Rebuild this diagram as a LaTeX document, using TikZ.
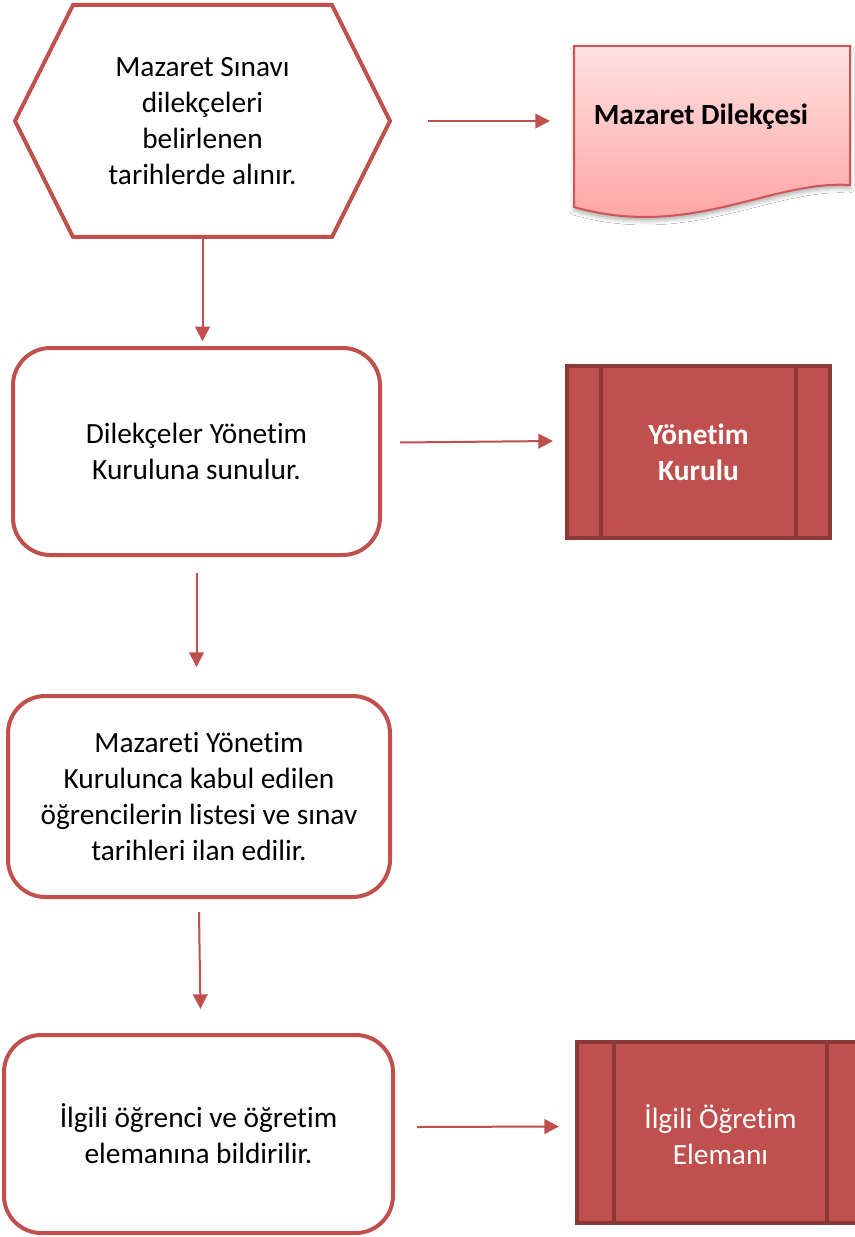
\documentclass[tikz,border=0pt]{standalone}
\usepackage{fontspec}
\setmainfont{Carlito}[Ligatures=NoCommon]
\usetikzlibrary{arrows.meta,shadows.blur}

\definecolor{accent}{HTML}{C0504D}
\definecolor{accentdark}{HTML}{8C3836}
\definecolor{doctop}{HTML}{FFE2E2}
\definecolor{docbottom}{HTML}{FF9E9E}
\definecolor{docline}{HTML}{D05555}

\tikzset{
  txt/.style={font=\fontsize{22pt}{27pt}\selectfont, align=center, outer sep=0pt, inner sep=0pt},
  boldtxt/.style={txt, font=\fontsize{22pt}{27pt}\selectfont\bfseries},
  stepbox/.style={txt, draw=accent, line width=3pt, rounded corners=28pt, fill=white},
  shapeonly/.style={txt, draw=none},
  procbox/.style={txt, draw=accentdark, line width=3.5pt, fill=accent, text=white},
  procline/.style={accentdark, line width=3.5pt},
  arr/.style={draw=accent, line width=1.5pt, -{Triangle[length=11pt,width=11pt]}},
}

\begin{document}
\begin{tikzpicture}[x=0.75pt,y=-0.75pt]
\fill[white] (0,0) rectangle (855,1237);
\useasboundingbox (0,0) rectangle (855,1237);

% start: hexagon with the first step
\node[shapeonly, minimum width=281.25pt, minimum height=174pt] (hex) at (202.5,121)
  {Mazaret Sınavı\\dilekçeleri\\belirlenen\\tarihlerde alınır.};
\draw[accent, line width=3pt, line join=miter]
  (hex.west) -- ([shift={(58,0)}]hex.north west) -- ([shift={(-58,0)}]hex.north east)
  -- (hex.east) -- ([shift={(-58,0)}]hex.south east) -- ([shift={(58,0)}]hex.south west) -- cycle;

% document shape
\node[shapeonly, minimum width=207pt, minimum height=120.75pt] (doc) at (712,126.5) {};
\path[blur shadow={shadow xshift=0pt, shadow yshift=-3pt, shadow blur radius=3pt, shadow opacity=30},
      top color=doctop, bottom color=docbottom, draw=docline, line width=1.5pt]
  (574,46) -- (850,46) -- (850,185) .. controls (770,180) and (690,240) .. (574,207) -- cycle;
\node[boldtxt] (doctext) at (701,117) {Mazaret Dilekçesi};

% process steps
\node[stepbox, minimum width=275.25pt, minimum height=155.25pt] (r1) at (196.5,451.5)
  {Dilekçeler Yönetim\\Kuruluna sunulur.};
\node[stepbox, minimum width=286.5pt, minimum height=150.75pt] (r2) at (199,796.5)
  {Mazareti Yönetim\\Kurulunca kabul edilen\\öğrencilerin listesi ve sınav\\tarihleri ilan edilir.};
\node[stepbox, minimum width=291.75pt, minimum height=148.5pt] (r3) at (198.5,1134)
  {İlgili öğrenci ve öğretim\\elemanına bildirilir.};

% predefined processes
\node[procbox, minimum width=197.25pt, minimum height=129pt] (pk1) at (698.5,452) {};
\draw[procline] ([shift={(34,0)}]pk1.north west) -- ([shift={(34,0)}]pk1.south west);
\draw[procline] ([shift={(-34,0)}]pk1.north east) -- ([shift={(-34,0)}]pk1.south east);
\node[boldtxt, text=white] (pk1text) at (pk1.center) {Yönetim\\Kurulu};

\node[procbox, minimum width=215.25pt, minimum height=135.75pt] (pk2) at (720.5,1132.5) {};
\draw[procline] ([shift={(37,0)}]pk2.north west) -- ([shift={(37,0)}]pk2.south west);
\draw[procline] ([shift={(-37,0)}]pk2.north east) -- ([shift={(-37,0)}]pk2.south east);
\node[txt, text=white] (pk2text) at ([shift={(0,2)}]pk2.center) {İlgili Öğretim\\Elemanı};

% connectors
\draw[arr, shorten >=5pt] (hex.south) -- (hex.south |- r1.north);
\draw[arr, shorten <=28.5pt, shorten >=18pt] (hex.east) -- (hex.east -| doc.west);
\draw[arr] ([shift={(20,-9)}]r1.east) -- ([shift={(-14,-11)}]pk1.west);
\draw[arr, shorten <=13.5pt, shorten >=21.75pt] (r1.south) -- (r1.south |- r2.north);
\draw[arr] ([shift={(0,15)}]r2.south) -- ([shift={(2,-26)}]r3.north);
\draw[arr] ([shift={(24,-7)}]r3.east) -- ([shift={(-18,-6)}]pk2.west);
\end{tikzpicture}
\end{document}
